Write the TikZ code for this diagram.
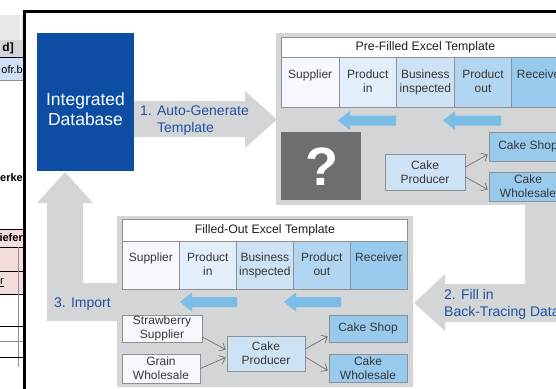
\documentclass[tikz,border=0pt]{standalone}
\usepackage{fontspec}
\setmainfont{Liberation Sans}
\usetikzlibrary{arrows.meta}
\definecolor{pgray}{RGB}{212,213,215}
\definecolor{bgray}{RGB}{142,144,147}
\definecolor{c1}{RGB}{245,249,254}
\definecolor{c2}{RGB}{226,238,250}
\definecolor{c3}{RGB}{205,226,245}
\definecolor{c4}{RGB}{178,214,241}
\definecolor{c5}{RGB}{152,202,237}
\definecolor{ablue}{RGB}{124,189,232}
\definecolor{dblue}{RGB}{13,77,163}
\definecolor{tblue}{RGB}{32,82,163}
\definecolor{qgray}{RGB}{109,110,112}
\definecolor{txt}{RGB}{55,55,55}
\definecolor{ttxt}{RGB}{30,30,30}
\definecolor{lgray}{RGB}{110,111,113}
\definecolor{sg1}{RGB}{232,233,235}
\definecolor{sg2}{RGB}{212,213,216}
\definecolor{sblue}{RGB}{205,224,245}
\definecolor{spink}{RGB}{242,221,220}
\tikzset{
 cell/.style={draw=bgray, line width=0.8pt, minimum width=57.6pt, minimum height=50pt, inner sep=0pt, anchor=north west},
 ctext/.style={text=txt, align=center, inner sep=0pt, anchor=north, font=\fontsize{12}{13.5}\selectfont},
 ttl/.style={draw=bgray, line width=0.8pt, fill=white, inner sep=0pt, anchor=north west, text=ttxt, font=\fontsize{12.3}{14}\selectfont},
 box/.style={draw=bgray, line width=0.8pt, inner sep=0pt, align=center, text=txt, font=\fontsize{12}{14}\selectfont},
 link/.style={draw=lgray, line width=0.7pt, -{Straight Barb[length=5pt,width=9pt]}, shorten >=1pt},
 slabel/.style={text=tblue, align=left, inner sep=0pt, anchor=north west, font=\fontsize{14}{17}\selectfont},
 strip/.style={inner sep=0pt, text=black, font=\fontsize{11}{12}\selectfont},
 pics/barrow/.style={code={\fill[ablue] (0,0)--(12,-9.5)--(12,-5)--(#1,-5)--(#1,5)--(12,5)--(12,9.5)--cycle;}},
}
\begin{document}
\begin{tikzpicture}[x=1pt,y=-1pt]
\useasboundingbox (0,0) rectangle (556,388);
\clip (0,0) rectangle (556,388);
\fill[white] (0,0) rectangle (556,388);
% background fragments at the left
\begin{scope}
\clip (0,0) rectangle (23,388);
\fill[sg1] (0,15) rectangle (23,40);
\draw[white, line width=1pt] (20,15)--(20,40);
\fill[sg2] (0,40) rectangle (23,57);
\node[strip, anchor=east, font=\bfseries\fontsize{12}{12}\selectfont] (sd) at (14,48.5) {d]};
\draw[black, line width=1pt] (0,57.5)--(23,57.5);
\fill[sblue] (0,58) rectangle (23,80);
\node[strip, anchor=east] (so) at (23,70) {ofr.b};
\draw[bgray, line width=0.5pt] (0,80)--(23,80);
\node[strip, anchor=east, font=\bfseries\fontsize{11}{12}\selectfont] (se) at (23,178) {erke};
\fill[spink] (0,229) rectangle (23,294);
\draw[black, line width=0.7pt] (0,229)--(23,229) (0,247)--(23,247) (0,271)--(23,271) (0,294)--(23,294);
\node[strip, anchor=east, font=\bfseries\fontsize{11}{12}\selectfont] (si) at (23,238) {iefer};
\node[strip, anchor=west] (sr) at (0,283) {\underline{r}};
\draw[bgray, line width=0.5pt] (18.5,247)--(18.5,367);
\draw[black, line width=0.7pt] (0,326)--(23,326) (0,357)--(23,357);
\draw[bgray, line width=0.7pt] (0,341)--(23,341);
\end{scope}
% frame
\draw[line width=3pt, fill=white] (24.5,11.5) rectangle (620,450);
% gray panels and big arrows
\fill[pgray] (276,33) rectangle (570,205);
\fill[pgray] (525,204)--(570,204)--(570,322)--(445,322)--(445,331)--(414,303)--(445,274)--(445,284)--(525,284)--cycle;
\fill[pgray] (117,216) rectangle (413,387);
\fill[pgray] (117,283)--(83,283)--(83,203)--(93,203)--(65,172)--(37,203)--(47,203)--(47,321)--(117,321)--cycle;
\fill[pgray] (134,101)--(245,101)--(245,91)--(277,119.5)--(245,148)--(245,137)--(134,137)--cycle;
% database
\node[fill=dblue, minimum width=97pt, minimum height=138pt, inner sep=0pt, anchor=north west] (db) at (37,33) {};
\node[text=white, align=center, inner sep=0pt, anchor=north, font=\fontsize{17.5}{19.5}\selectfont] (dbt) at (85.5,93) {Integrated\\Database};
% step labels
\node[slabel] (s1) at (140,106) {1. Auto-Generate\\\hphantom{1. }Template};
\node[slabel] (s2) at (444,289) {2. Fill in\\Back-Tracing Data};
\node[slabel] (s3) at (54,298) {3. Import};
% upper table
\node[ttl, minimum width=288pt, minimum height=20pt] (t1) at (281,37) {Pre-Filled Excel Template};
\node[cell, fill=c1] (u1) at (281,57) {};
\node[cell, fill=c2] (u2) at (338.6,57) {};
\node[cell, fill=c3] (u3) at (396.2,57) {};
\node[cell, fill=c4] (u4) at (453.8,57) {};
\node[cell, fill=c5] (u5) at (511.4,57) {};
\node[ctext] (u1t) at ([yshift=-13pt]u1.north) {Supplier};
\node[ctext] (u2t) at ([yshift=-13pt]u2.north) {Product\\in};
\node[ctext] (u3t) at ([yshift=-13pt]u3.north) {Business\\inspected};
\node[ctext] (u4t) at ([yshift=-13pt]u4.north) {Product\\out};
\node[ctext] (u5t) at ([yshift=-13pt]u5.north) {Receiver};
\pic at (338,120.5) {barrow=58};
\pic at (443,120.5) {barrow=58};
\node[fill=qgray, minimum width=80pt, minimum height=68pt, inner sep=0pt, anchor=north west] (q) at (281,132) {};
\node[text=white, inner sep=0pt, font=\bfseries\fontsize{54}{54}\selectfont] (qt) at (321.5,167) {?};
\node[box, fill=c3, minimum width=80pt, minimum height=36pt] (up) at (425,172) {Cake\\Producer};
\node[box, fill=c5, minimum width=78pt, minimum height=29pt] (us) at (528,146.5) {Cake Shop};
\node[box, fill=c5, minimum width=78pt, minimum height=29pt] (uw) at (528,186.5) {Cake\\Wholesale};
\draw[link] ([yshift=5pt]up.east) -- ([yshift=-7.5pt]us.west);
\draw[link] ([yshift=-5pt]up.east) -- ([yshift=-3.5pt]uw.west);
% lower table
\node[ttl, minimum width=285pt, minimum height=22pt] (t2) at (122,219) {Filled-Out Excel Template};
\node[cell, fill=c1, minimum width=57pt, minimum height=48pt] (l1) at (122,241) {};
\node[cell, fill=c2, minimum width=57pt, minimum height=48pt] (l2) at (179,241) {};
\node[cell, fill=c3, minimum width=57pt, minimum height=48pt] (l3) at (236,241) {};
\node[cell, fill=c4, minimum width=57pt, minimum height=48pt] (l4) at (293,241) {};
\node[cell, fill=c5, minimum width=57pt, minimum height=48pt] (l5) at (350,241) {};
\node[ctext] (l1t) at ([yshift=-12pt]l1.north) {Supplier};
\node[ctext] (l2t) at ([yshift=-12pt]l2.north) {Product\\in};
\node[ctext] (l3t) at ([yshift=-12pt]l3.north) {Business\\inspected};
\node[ctext] (l4t) at ([yshift=-12pt]l4.north) {Product\\out};
\node[ctext] (l5t) at ([yshift=-12pt]l5.north) {Receiver};
\pic at (180,302) {barrow=57};
\pic at (284,302) {barrow=57};
\node[box, fill=c1, minimum width=80pt, minimum height=27pt] (ls) at (162,328.5) {Strawberry\\Supplier};
\node[box, fill=c1, minimum width=78pt, minimum height=29pt] (lg) at (161,368.5) {Grain\\Wholesale};
\node[box, fill=c3, minimum width=78pt, minimum height=35pt] (lp) at (266,353.5) {Cake\\Producer};
\node[box, fill=c5, minimum width=78pt, minimum height=27pt] (lcs) at (368,328.5) {Cake Shop};
\node[box, fill=c5, minimum width=78pt, minimum height=28pt] (lcw) at (368,368) {Cake\\Wholesale};
\draw[link] ([yshift=-8.5pt]ls.east) -- ([yshift=3.5pt]lp.west);
\draw[link] (lg.east) -- ([yshift=-3.5pt]lp.west);
\draw[link] ([yshift=4.5pt]lp.east) -- ([yshift=-7.5pt]lcs.west);
\draw[link] ([yshift=-3.5pt]lp.east) -- ([yshift=-3pt]lcw.west);
\end{tikzpicture}
\end{document}
